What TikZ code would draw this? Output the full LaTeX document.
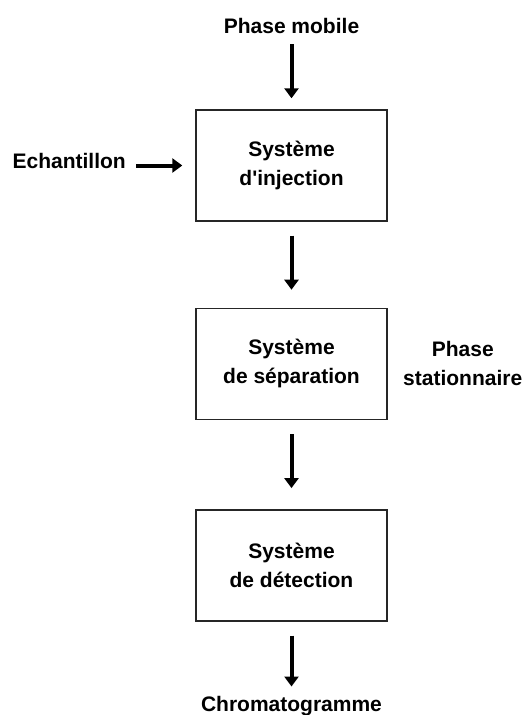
\documentclass[tikz,border=0pt]{standalone}
\usepackage{fontspec}
\setmainfont{Liberation Sans}
\usetikzlibrary{arrows.meta, positioning}
\newcommand{\diagfont}{\fontsize{21pt}{29pt}\selectfont\bfseries}

\begin{document}
\begin{tikzpicture}[x=1pt, y=-1pt, node distance=86pt,
    stagebox/.style={draw=black!85, line width=1.4pt, minimum width=191pt, minimum height=111pt, align=center, font=\diagfont},
    tag/.style={align=center, font=\diagfont},
    flow/.style={-{Triangle[width=14pt,length=10pt]}, line width=4pt}]
\useasboundingbox (0,0) rectangle (523,715);
\draw
    node [stagebox] at (291.5,165.5) (inject) {Système\\d\textquotesingle injection}
    node [stagebox, below=of inject] (separ) {Système\\de séparation}
    node [stagebox, below=89pt of separ] (detect) {Système\\de détection}
    node [tag, above=72pt of inject] (mobile) {Phase mobile}
    node [tag, left=66pt of inject, yshift=5pt] (sample) {Echantillon}
    node [tag, right=12pt of separ] (station) {Phase\\stationnaire}
    node [tag, below=71pt of detect] (chromato) {Chromatogramme}
;
\draw[flow, shorten <=7pt, shorten >=11pt] (mobile) -- (inject);
\draw[flow, shorten <=7pt, shorten >=13pt] (sample.east |- inject.west) -- (inject.west);
\draw[flow, shorten <=14pt, shorten >=18pt] (inject) -- (separ);
\draw[flow, shorten <=14pt, shorten >=21pt] (separ) -- (detect);
\draw[flow, shorten <=14pt, shorten >=6pt] (detect) -- (chromato);
\end{tikzpicture}
\end{document}
